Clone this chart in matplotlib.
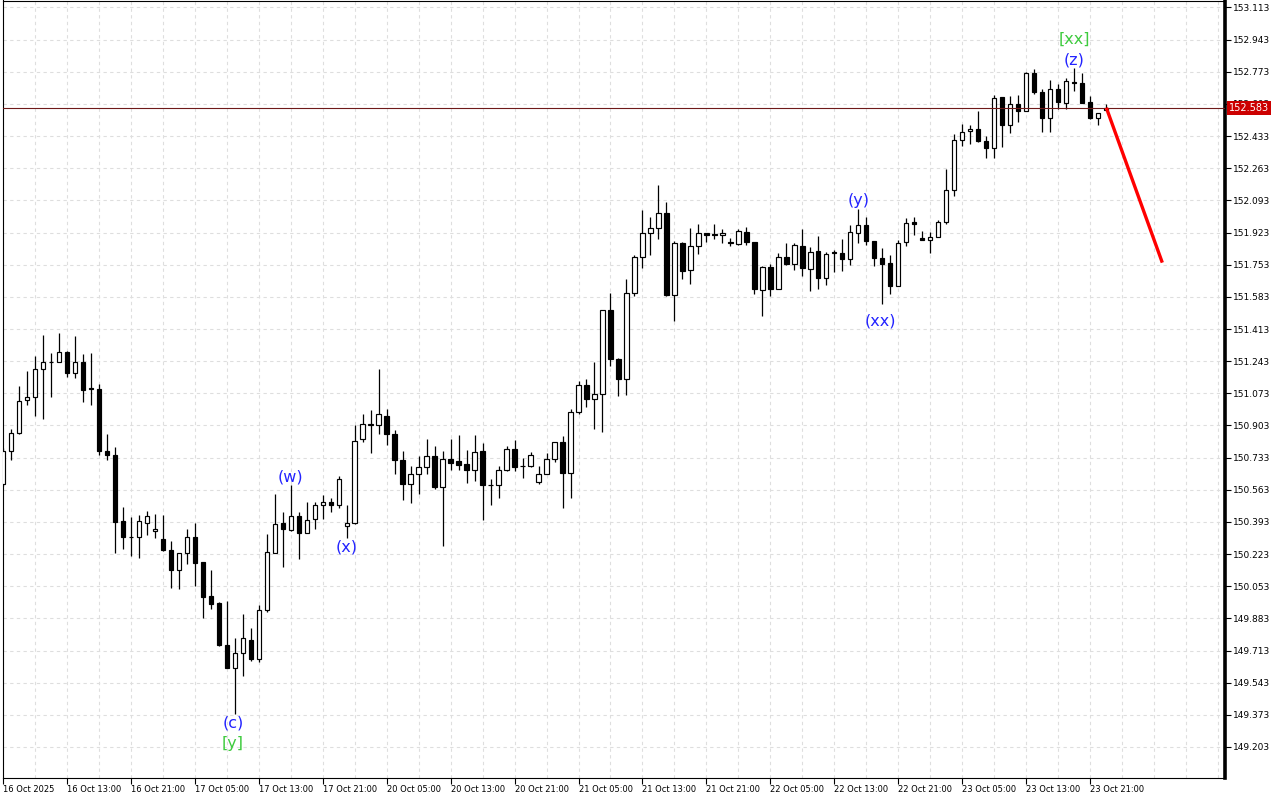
import matplotlib
matplotlib.use('Agg')
import matplotlib.pyplot as plt
import matplotlib.transforms as mtransforms
import numpy as np

# ---------------- data (hourly candles) ----------------
opens = [150.592, 150.770, 150.863, 151.040, 151.051, 151.199, 151.239, 151.241, 151.289, 151.178,
         151.236, 151.100, 151.098, 150.770, 150.749, 150.397, 150.315, 150.314, 150.388, 150.343,
         150.305, 150.242, 150.140, 150.227, 150.311, 150.181, 150.000, 149.964, 149.741, 149.622,
         149.698, 149.769, 149.667, 149.927, 150.227, 150.385, 150.351, 150.422, 150.337, 150.406,
         150.480, 150.496, 150.480, 150.369, 150.385, 150.834, 150.908, 150.903, 150.955, 150.860,
         150.719, 150.594, 150.644, 150.681, 150.739, 150.578, 150.728, 150.714, 150.697, 150.670,
         150.767, 150.587, 150.586, 150.670, 150.776, 150.691, 150.691, 150.602, 150.649, 150.728,
         150.818, 150.654, 150.976, 151.119, 151.045, 151.072, 151.516, 151.257, 151.149, 151.605,
         151.794, 151.922, 151.949, 152.028, 151.593, 151.870, 151.727, 151.854, 151.922, 151.914,
         151.912, 151.871, 151.864, 151.928, 151.875, 151.619, 151.743, 151.625, 151.796, 151.759,
         151.854, 151.732, 151.827, 151.685, 151.818, 151.817, 151.785, 151.922, 151.965, 151.880,
         151.790, 151.764, 151.642, 151.875, 151.981, 151.896, 151.886, 151.901, 151.981, 152.150,
         152.414, 152.461, 152.472, 152.409, 152.372, 152.641, 152.493, 152.604, 152.567, 152.768,
         152.668, 152.530, 152.683, 152.609, 152.720, 152.715, 152.615, 152.530, 152.569]

highs = [150.783, 150.883, 151.111, 151.190, 151.269, 151.380, 151.284, 151.394, 151.299, 151.375,
         151.280, 151.284, 151.121, 150.860, 150.791, 150.473, 150.417, 150.429, 150.450, 150.434,
         150.429, 150.291, 150.227, 150.358, 150.385, 150.181, 150.138, 149.969, 149.975, 149.778,
         149.906, 149.832, 149.953, 150.328, 150.538, 150.443, 150.587, 150.448, 150.496, 150.496,
         150.534, 150.520, 150.635, 150.480, 150.904, 150.962, 150.983, 151.201, 150.992, 150.881,
         150.768, 150.688, 150.740, 150.830, 150.792, 150.767, 150.830, 150.851, 150.772, 150.851,
         150.809, 150.619, 150.691, 150.793, 150.825, 150.730, 150.762, 150.691, 150.760, 150.818,
         150.845, 150.992, 151.140, 151.147, 151.237, 151.516, 151.605, 151.262, 151.676, 151.806,
         152.044, 152.007, 152.172, 152.086, 151.880, 151.875, 151.949, 151.970, 151.922, 151.970,
         151.944, 151.896, 151.944, 151.954, 151.875, 151.748, 151.759, 151.817, 151.870, 151.870,
         151.944, 151.849, 151.907, 151.822, 151.833, 151.891, 151.965, 152.047, 152.007, 151.880,
         151.843, 151.806, 151.886, 152.002, 152.007, 151.933, 151.928, 151.991, 152.261, 152.446,
         152.498, 152.493, 152.567, 152.435, 152.652, 152.641, 152.646, 152.652, 152.773, 152.789,
         152.683, 152.731, 152.710, 152.742, 152.794, 152.768, 152.646, 152.557, 152.604]

lows = [150.582, 150.721, 150.860, 151.011, 150.953, 150.936, 151.054, 151.241, 151.160, 151.155,
        151.027, 151.011, 150.747, 150.718, 150.230, 150.251, 150.214, 150.203, 150.323, 150.309,
        150.240, 150.045, 150.039, 150.172, 150.054, 149.886, 149.934, 149.735, 149.622, 149.375,
        149.579, 149.657, 149.652, 149.917, 150.227, 150.156, 150.343, 150.198, 150.337, 150.358,
        150.406, 150.446, 150.469, 150.306, 150.380, 150.813, 150.758, 150.858, 150.800, 150.647,
        150.510, 150.494, 150.541, 150.647, 150.568, 150.266, 150.670, 150.670, 150.599, 150.610,
        150.404, 150.485, 150.520, 150.660, 150.660, 150.624, 150.681, 150.594, 150.644, 150.712,
        150.464, 150.520, 150.961, 151.003, 150.885, 150.869, 151.218, 151.059, 151.064, 151.588,
        151.735, 151.804, 151.889, 151.590, 151.455, 151.677, 151.651, 151.812, 151.875, 151.891,
        151.870, 151.854, 151.859, 151.859, 151.598, 151.482, 151.588, 151.625, 151.754, 151.727,
        151.695, 151.616, 151.625, 151.646, 151.716, 151.719, 151.754, 151.870, 151.859, 151.748,
        151.547, 151.600, 151.642, 151.854, 151.912, 151.886, 151.817, 151.901, 151.970, 152.118,
        152.382, 152.393, 152.403, 152.319, 152.319, 152.377, 152.451, 152.509, 152.567, 152.657,
        152.456, 152.456, 152.578, 152.578, 152.673, 152.609, 152.525, 152.493, 152.569]

closes = [150.767, 150.865, 151.034, 151.051, 151.199, 151.236, 151.241, 151.289, 151.178, 151.236,
          151.091, 151.098, 150.768, 150.747, 150.393, 150.314, 150.314, 150.397, 150.422, 150.358,
          150.242, 150.140, 150.227, 150.311, 150.177, 149.997, 149.960, 149.741, 149.622, 149.698,
          149.778, 149.667, 149.927, 150.232, 150.380, 150.358, 150.422, 150.337, 150.404, 150.485,
          150.496, 150.480, 150.619, 150.385, 150.823, 150.913, 150.910, 150.966, 150.858, 150.723,
          150.594, 150.644, 150.681, 150.739, 150.578, 150.728, 150.707, 150.695, 150.670, 150.765,
          150.589, 150.586, 150.670, 150.776, 150.686, 150.689, 150.749, 150.644, 150.728, 150.818,
          150.654, 150.976, 151.119, 151.045, 151.072, 151.511, 151.255, 151.149, 151.605, 151.796,
          151.922, 151.949, 152.028, 151.593, 151.870, 151.722, 151.852, 151.922, 151.912, 151.912,
          151.922, 151.870, 151.933, 151.875, 151.625, 151.743, 151.625, 151.796, 151.759, 151.859,
          151.738, 151.822, 151.685, 151.812, 151.817, 151.785, 151.928, 151.965, 151.880, 151.790,
          151.759, 151.642, 151.870, 151.975, 151.970, 151.886, 151.901, 151.981, 152.150, 152.414,
          152.455, 152.472, 152.409, 152.372, 152.636, 152.493, 152.604, 152.567, 152.768, 152.668,
          152.530, 152.683, 152.615, 152.726, 152.715, 152.609, 152.530, 152.557, 152.583]

x_tick_labels = ["16 Oct 2025", "16 Oct 13:00", "16 Oct 21:00", "17 Oct 05:00", "17 Oct 13:00",
                 "17 Oct 21:00", "20 Oct 05:00", "20 Oct 13:00", "20 Oct 21:00", "21 Oct 05:00",
                 "21 Oct 13:00", "21 Oct 21:00", "22 Oct 05:00", "22 Oct 13:00", "22 Oct 21:00",
                 "23 Oct 05:00", "23 Oct 13:00", "23 Oct 21:00"]
x_tick_step = 8

y_tick_values = [149.203, 149.373, 149.543, 149.713, 149.883, 150.053, 150.223, 150.393,
                 150.563, 150.733, 150.903, 151.073, 151.243, 151.413, 151.583, 151.753,
                 151.923, 152.093, 152.263, 152.433, 152.603, 152.773, 152.943, 153.113]

wave_labels = ["(c)", "[y]", "(w)", "(x)", "(y)", "(xx)", "[xx]", "(z)"]
wave_index = [28.8, 28.8, 36, 43, 107, 109.8, 134, 134]
wave_price = [149.330, 149.224, 150.630, 150.260, 152.093, 151.454, 152.944, 152.838]

forecast_index = [138, 145]
forecast_price = [152.583, 151.764]
last_price = 152.583

# ---------------- figure ----------------
W, H = 1280, 800
fig = plt.figure(figsize=(W / 100, H / 100), dpi=100)
ax = fig.add_axes([2.7 / W, 22 / H, (1225 - 2.7) / W, 777.5 / H])

o = np.array(opens); h = np.array(highs); l = np.array(lows); c = np.array(closes)
x = np.arange(len(o))
bull = c > o

ax.vlines(x, l, h, color='black', linewidth=0.9, zorder=2)
bottoms = np.minimum(o, c)
heights = np.maximum(np.abs(c - o), 0.0004)
ax.bar(x, heights, bottom=bottoms, width=0.52,
       color=np.where(bull, 'white', 'black'), edgecolor='black',
       linewidth=0.85, zorder=3)

ax.axhline(last_price, color='#6e1a1a', linewidth=0.8, zorder=4)
ax.plot(forecast_index, forecast_price, color='#ff0000', linewidth=2.4,
        solid_capstyle='butt', zorder=6)

for lab, xi, yp in zip(wave_labels, wave_index, wave_price):
    col = '#2323ff' if lab.startswith('(') else '#3ecb3e'
    ax.text(xi, yp, lab, color=col, fontsize=11.5, ha='center', va='center', zorder=7)

ax.set_xlim(0.05, 152.84)
ax.set_ylim(149.039, 153.150)

major_x = np.arange(0, len(x_tick_labels) * x_tick_step, x_tick_step)
ax.set_xticks(major_x)
ax.set_xticklabels(x_tick_labels, fontsize=6, ha='left')
ax.set_xticks(np.arange(4, 153, 4), minor=True)
ax.set_yticks(y_tick_values)
ax.set_yticklabels([f"{v:.3f}" for v in y_tick_values], fontsize=6.5)
ax.yaxis.tick_right()

ax.tick_params(axis='x', which='major', direction='out', length=4, width=0.8, pad=1)
ax.tick_params(axis='x', which='minor', length=0)
ax.tick_params(axis='y', direction='out', length=4, width=0.8, pad=2)

grid_kw = dict(color='#dedede', linestyle=(0, (3, 3)), linewidth=0.8)
ax.grid(True, which='both', axis='x', **grid_kw)
ax.grid(True, which='major', axis='y', **grid_kw)
ax.set_axisbelow(True)

for s in ['left', 'top', 'bottom']:
    ax.spines[s].set_linewidth(0.8)
ax.spines['right'].set_linewidth(2.6)

trans = mtransforms.blended_transform_factory(ax.transAxes, ax.transData)
ax.text(1.003, last_price, f"{last_price:.3f}", transform=trans, color='white',
        fontsize=7, ha='left', va='center', clip_on=False, zorder=10,
        bbox=dict(boxstyle='square,pad=0.2', fc='#cc0000', ec='none'))

fig.savefig('out.png', dpi=100, facecolor='white')
